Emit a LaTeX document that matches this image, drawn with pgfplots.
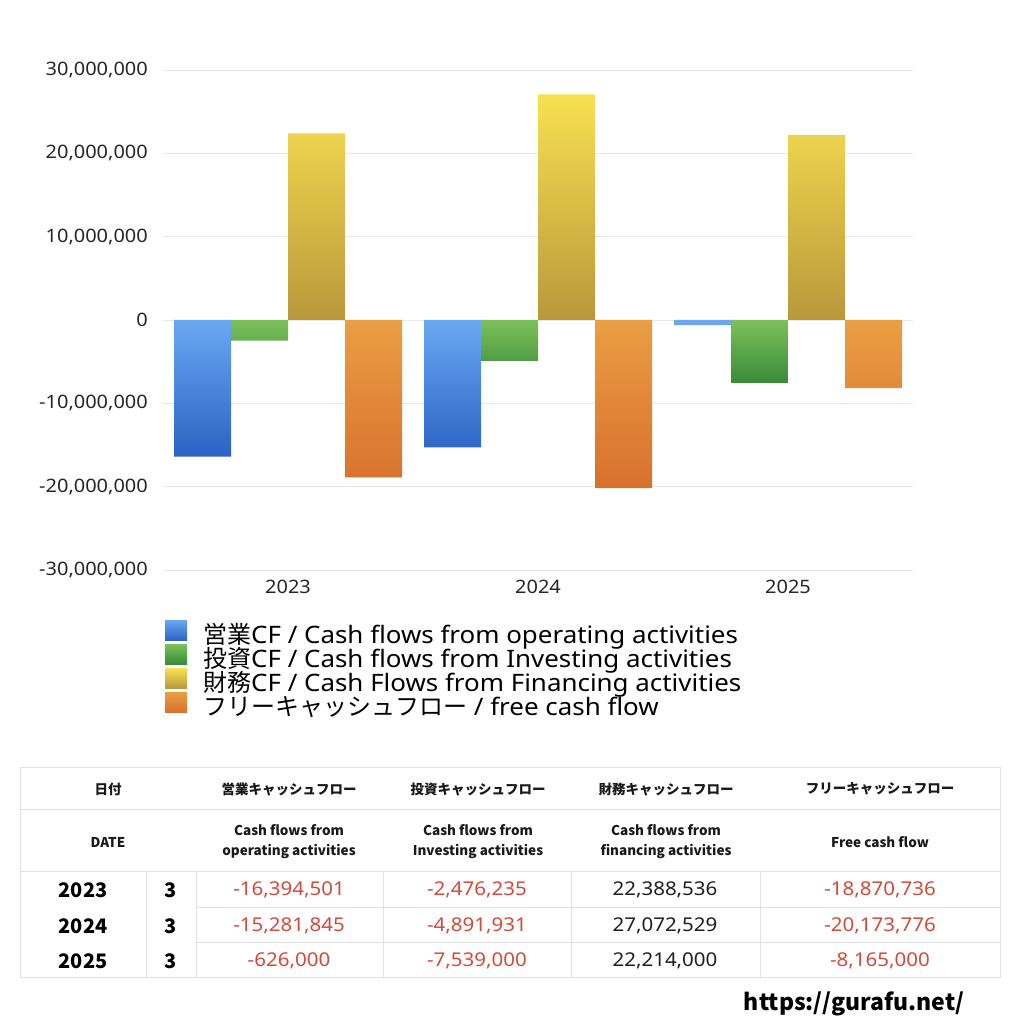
\documentclass[border=0pt]{standalone}
\usepackage{fontspec}
\setmainfont{Noto Sans}[FakeStretch=1.08]
\newfontfamily\cjk{Noto Sans CJK JP}
\usepackage{pgfplots}
\pgfplotsset{compat=1.18}

\definecolor{opTop}{HTML}{6AA8F2}
\definecolor{opBot}{HTML}{2C62C4}
\definecolor{invTop}{HTML}{7CC05A}
\definecolor{invBot}{HTML}{3A8A38}
\definecolor{finTop}{HTML}{F8E052}
\definecolor{finBot}{HTML}{B8983A}
\definecolor{frTop}{HTML}{EA9E42}
\definecolor{frBot}{HTML}{D8702E}
\definecolor{negred}{HTML}{D24B3A}
\definecolor{tline}{HTML}{E2E2E2}

\begin{document}
\begin{tikzpicture}[x=1pt,y=1pt]
\fill[white] (0,0) rectangle (1024,1024);
\begin{axis}[
  at={(163pt,454pt)}, anchor=south west,
  scale only axis, width=750pt, height=500pt,
  xmin=-0.5, xmax=2.5,
  ymin=-30000000, ymax=30000000,
  ytick={-30000000,-20000000,-10000000,0,10000000,20000000,30000000},
  xtick={0,1,2}, xticklabels={2023,2024,2025},
  ybar=0pt, bar width=57pt,
  axis line style={draw=none}, major tick style={draw=none},
  ymajorgrids, grid style={draw=black!9, line width=0.8pt},
  scaled y ticks=false,
  /pgf/number format/fixed,
  /pgf/number format/precision=0,
  /pgf/number format/1000 sep={,},
  /pgf/number format/assume math mode=true,
  tick label style={font=\fontsize{18.5}{22}\selectfont, text=black!85, inner sep=0pt},
  yticklabel shift=15pt,
  xticklabel shift=6pt,
  legend style={at={(0.0027,-0.1)}, anchor=north west, draw=none, fill=none,
    inner sep=0pt, font=\fontsize{24}{24}\selectfont, row sep=-5pt,
    nodes={inner ysep=0pt, inner xsep=0pt, text height=18pt, text depth=6pt},
    /tikz/every odd column/.style={column sep=16pt}},
  legend cell align=left,
  legend image code/.code={\path[#1, draw=none] (0pt,-3pt) rectangle (22pt,17pt);},
]
\addplot[draw=none, top color=opTop, bottom color=opBot]
  coordinates {(0,-16394501) (1,-15281845) (2,-626000)};
\addlegendentry{{\cjk 営業}CF / Cash flows from operating activities}
\addplot[draw=none, top color=invTop, bottom color=invBot]
  coordinates {(0,-2476235) (1,-4891931) (2,-7539000)};
\addlegendentry{{\cjk 投資}CF / Cash flows from Investing activities}
\addplot[draw=none, top color=finTop, bottom color=finBot]
  coordinates {(0,22388536) (1,27072529) (2,22214000)};
\addlegendentry{{\cjk 財務}CF / Cash Flows from Financing activities}
\addplot[draw=none, top color=frTop, bottom color=frBot]
  coordinates {(0,-18870736) (1,-20173776) (2,-8165000)};
\addlegendentry{{\cjk フリーキャッシュフロー} / free cash flow}
\end{axis}

% table below the chart
\draw[tline, line width=1pt] (20,256) rectangle (1000,46);
\draw[tline, line width=1pt] (20,214) -- (1000,214);
\draw[tline, line width=1pt] (20,152) -- (1000,152);
\draw[tline, line width=1pt] (196,116) -- (1000,116);
\draw[tline, line width=1pt] (196,81) -- (1000,81);
\foreach \xx in {146,196,383,571,760}
  \draw[tline, line width=1pt] (\xx,152) -- (\xx,46);

\tikzset{hdr/.style={font=\cjk\fontsize{13.5}{20}\selectfont\bfseries, align=center, text=black!90},
         num/.style={font=\fontsize{19}{22}\selectfont},
         yr/.style={font=\cjk\fontsize{20}{22}\selectfont\bfseries}}
\node[hdr] at (108,235) {日付};
\node[hdr] at (289,235) {営業キャッシュフロー};
\node[hdr] at (478,235) {投資キャッシュフロー};
\node[hdr] at (666,235) {財務キャッシュフロー};
\node[hdr] at (880,235) {フリーキャッシュフロー};
\node[hdr] at (108,182) {DATE};
\node[hdr] at (289,182) {Cash flows from\\operating activities};
\node[hdr] at (478,182) {Cash flows from\\Investing activities};
\node[hdr] at (666,182) {Cash flows from\\financing activities};
\node[hdr] at (880,182) {Free cash flow};

\node[yr] at (83,134) {2023};
\node[yr] at (83,98) {2024};
\node[yr] at (83,63) {2025};
\node[yr] at (171,134) {3};
\node[yr] at (171,98) {3};
\node[yr] at (171,63) {3};

\node[num, text=negred] at (289,134) {-16,394,501};
\node[num, text=negred] at (289,98) {-15,281,845};
\node[num, text=negred] at (289,63) {-626,000};
\node[num, text=negred] at (477,134) {-2,476,235};
\node[num, text=negred] at (477,98) {-4,891,931};
\node[num, text=negred] at (477,63) {-7,539,000};
\node[num, text=black!88] at (665,134) {22,388,536};
\node[num, text=black!88] at (665,98) {27,072,529};
\node[num, text=black!88] at (665,63) {22,214,000};
\node[num, text=negred] at (880,134) {-18,870,736};
\node[num, text=negred] at (880,98) {-20,173,776};
\node[num, text=negred] at (880,63) {-8,165,000};

\node[font=\cjk\fontsize{23}{24}\selectfont\bfseries] at (854,20) {https://gurafu.net/};
\end{tikzpicture}
\end{document}
